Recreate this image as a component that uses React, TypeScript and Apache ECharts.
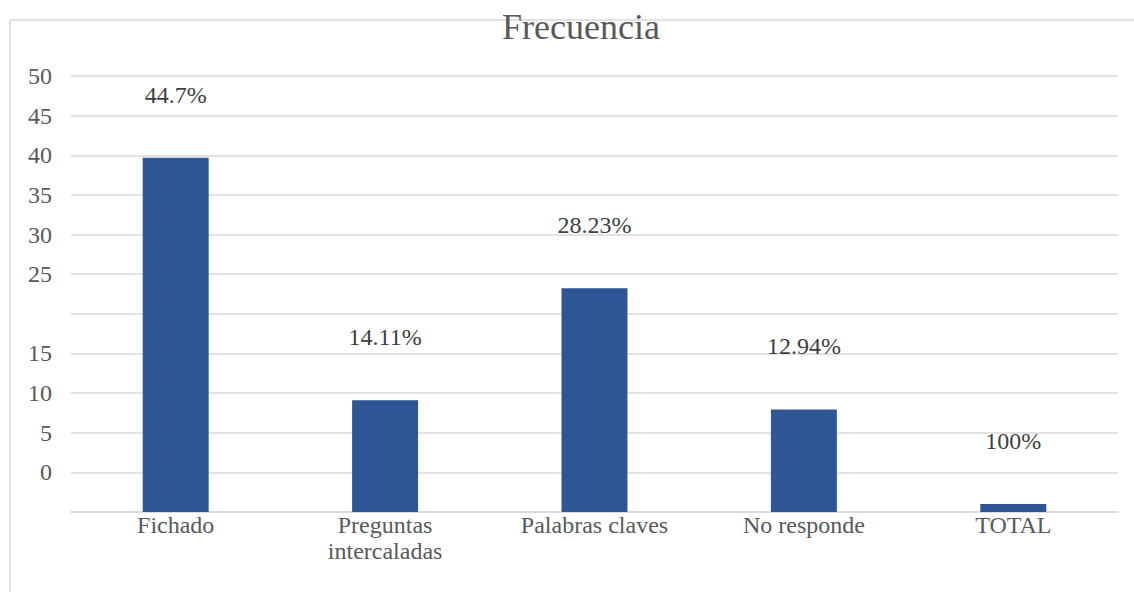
import React, { useEffect, useRef } from "react";
import * as echarts from "echarts";

const categories = ["Fichado", "Preguntas\nintercaladas", "Palabras claves", "No responde", "TOTAL"];
const values = [44.7, 14.11, 28.23, 12.94, 1];
const dataLabels = ["44.7%", "14.11%", "28.23%", "12.94%", "100%"];
// tick labels as they appear at each gridline, from bottom (0) to top (55)
const tickLabels = ["", "0", "5", "10", "15", "", "25", "30", "35", "40", "45", "50"];

export default function App() {
  const ref = useRef<HTMLDivElement>(null);
  useEffect(() => {
    if (!ref.current) return;
    const chart = echarts.init(ref.current, null, { renderer: "svg" });
    const font = "'Liberation Serif', 'Times New Roman', serif";
    chart.setOption({
      animation: false,
      backgroundColor: "#ffffff",
      title: {
        text: "Frecuencia",
        left: 497,
        top: 4,
        textStyle: { fontFamily: font, fontSize: 36, fontWeight: "normal", color: "#595959" },
      },
      graphic: [
        {
          type: "rect",
          z: -10,
          silent: true,
          shape: { x: 10, y: 20, width: 1200, height: 700 },
          style: { fill: "none", stroke: "#d9d9d9", lineWidth: 1.5 },
        },
      ],
      grid: { left: 71, right: 16, top: 76, bottom: 80, containLabel: false },
      xAxis: {
        type: "category",
        data: categories,
        axisLine: { show: true, lineStyle: { color: "#d9d9d9", width: 1.5 } },
        axisTick: { show: false },
        axisLabel: {
          fontFamily: font,
          fontSize: 24,
          color: "#595959",
          margin: 0,
          lineHeight: 26,
          interval: 0,
        },
      },
      yAxis: {
        type: "value",
        min: 0,
        max: 55,
        interval: 5,
        axisLine: { show: false },
        axisTick: { show: false },
        splitLine: { lineStyle: { color: "#d9d9d9", width: 1.5 } },
        axisLabel: {
          fontFamily: font,
          fontSize: 24,
          color: "#595959",
          margin: 19,
          formatter: (v: number) => tickLabels[Math.round(v / 5)] ?? "",
        },
      },
      series: [
        {
          type: "bar",
          data: values,
          barWidth: "31.5%",
          itemStyle: { color: "#2E5594" },
          label: {
            show: true,
            position: "top",
            distance: 51,
            fontFamily: font,
            fontSize: 24,
            color: "#404040",
            formatter: (p: any) => dataLabels[p.dataIndex],
          },
        },
      ],
    });
    return () => chart.dispose();
  }, []);
  return (
    <div
      ref={ref}
      style={{ position: "fixed", left: 0, top: 0, width: 1134, height: 592 }}
    />
  );
}
